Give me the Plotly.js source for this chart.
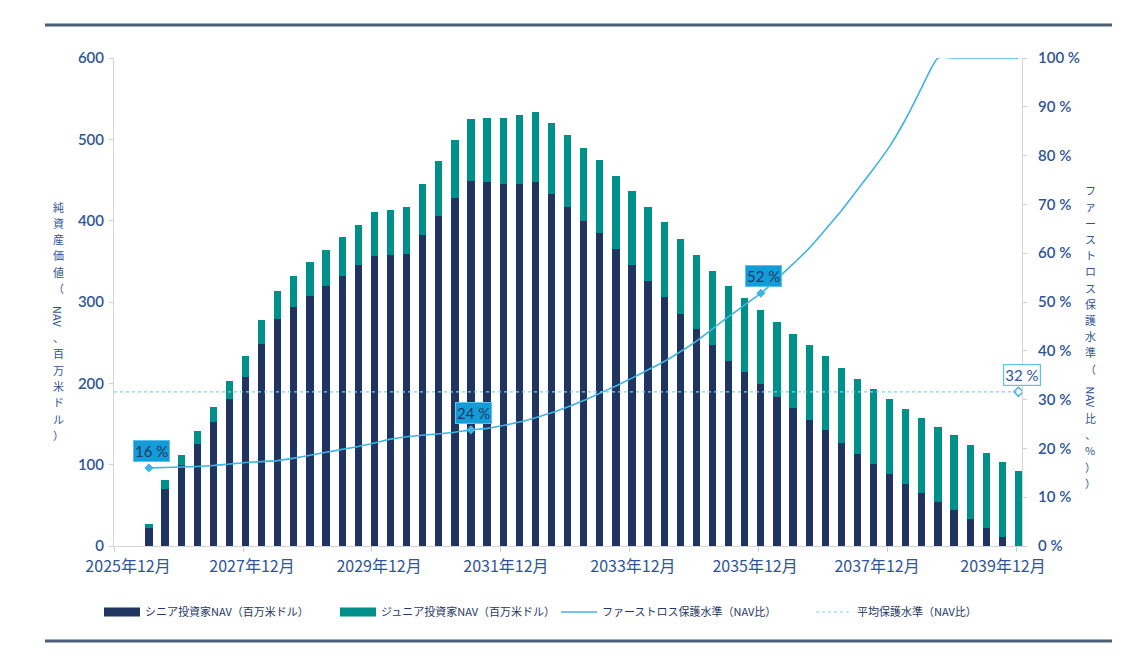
<!DOCTYPE html>
<html><head><meta charset="utf-8">
<script src="https://cdn.plot.ly/plotly-3.0.1.min.js"></script>
<style>html,body{margin:0;padding:0;background:#fff}#chart{width:1148px;height:665px}</style>
</head><body><div id="chart"></div>
<script>
// Quarterly periods (2026年6月 .. 2039年12月)
const periods = [
 '2026-06','2026-09','2026-12','2027-03','2027-06','2027-09','2027-12','2028-03','2028-06','2028-09','2028-12',
 '2029-03','2029-06','2029-09','2029-12','2030-03','2030-06','2030-09','2030-12','2031-03','2031-06','2031-09','2031-12',
 '2032-03','2032-06','2032-09','2032-12','2033-03','2033-06','2033-09','2033-12','2034-03','2034-06','2034-09','2034-12',
 '2035-03','2035-06','2035-09','2035-12','2036-03','2036-06','2036-09','2036-12','2037-03','2037-06','2037-09','2037-12',
 '2038-03','2038-06','2038-09','2038-12','2039-03','2039-06','2039-09','2039-12'];

// シニア投資家NAV（百万米ドル）
const seniorNAV = [22.5,70,99.6,126,152.9,180.7,208.2,248,279,293.5,307.8,320,332,345,356.6,357.4,359,382,405.7,427.5,448.8,
 447.2,444.7,444.7,447.2,432.4,416.4,400,384.5,364.8,345.5,325.4,305.8,285.3,266.4,247.4,227.7,213.8,199,183.6,169.3,
 154.9,142.2,127,113.1,100.8,88.9,76.6,65.5,54.1,43.9,32.8,21.8,10.7,0.5];

// ジュニア投資家NAV（百万米ドル）
const juniorNAV = [4.2,10.8,11.9,15.4,18.4,22.2,25.8,29.9,34.5,38.1,41.0,44.3,47.5,50.0,54.1,56.1,58.2,62.7,67.3,71.3,76.2,
 78.6,81.9,85.2,86.8,87.3,89.3,89.7,90.1,90.5,91.4,91.4,92.2,92.2,91.8,90.7,92.0,91.5,91.4,91.8,91.8,
 91.8,91.4,92.2,91.9,92.2,91.8,92.2,92.3,92.2,92.2,91.8,92.5,92.2,92.1];

// ファーストロス保護水準（NAV比, %）
const firstLoss = [16.0,16.1,16.2,16.3,16.5,16.8,17.1,17.3,17.5,18.0,18.6,19.2,19.8,20.4,21.1,21.9,22.4,22.7,23.0,23.3,23.8,
 24.1,24.7,25.4,26.3,27.3,28.5,29.8,31.3,32.8,34.4,36.1,37.8,39.8,42.0,44.5,47.0,49.4,51.8,54.7,57.8,
 61.0,64.8,68.7,73.0,77.3,81.9,87.5,94.0,100,100,100,100,100,100];

// 平均保護水準（NAV比, %）
const avgProtection = 31.6;

// labelled points on the first-loss line
const labelledPeriods = ['2026-06','2031-06','2035-12'];

const tickLabels = ['2025年12月','2027年12月','2029年12月','2031年12月','2033年12月','2035年12月','2037年12月','2039年12月'];

const seriesNames = ['シニア投資家NAV（百万米ドル）','ジュニア投資家NAV（百万米ドル）','ファーストロス保護水準（NAV比）','平均保護水準（NAV比）'];

// ---- layout helpers ----
const L = 114, R = 1022, T = 58, B = 546;
const px = x => (x - L) / (R - L);
const py = y => (B - y) / (B - T);
const xRange = [-2.17, 54.22];
const tickPos = [-1.3, 6.4, 14.29, 22.17, 30.06, 37.64, 45.22, 53.04];

const idx = periods.map((_, i) => i);
const C_SENIOR = '#1f3461', C_JUNIOR = '#00908a', C_LINE = '#3fb4e3', C_AVG = '#7fd0f0';
const TXT = '#2f5597';

const labIdx = labelledPeriods.map(p => periods.indexOf(p));
const lastIdx = idx[idx.length - 1];

const traces = [
  {type:'bar', x: idx, y: seniorNAV, name: seriesNames[0], marker:{color:C_SENIOR}, width:0.45, yaxis:'y', showlegend:false},
  {type:'bar', x: idx, y: juniorNAV, name: seriesNames[1], marker:{color:C_JUNIOR}, width:0.45, yaxis:'y', showlegend:false},
  {type:'scatter', mode:'lines', x: idx, y: firstLoss, name: seriesNames[2], yaxis:'y2', legend:'legend3',
    line:{color:C_LINE, width:1.6, shape:'spline', smoothing:0.6}},
  {type:'scatter', mode:'lines', x:[xRange[0], lastIdx], y:[avgProtection, avgProtection], name: seriesNames[3], yaxis:'y2',
    legend:'legend4', line:{color:C_AVG, width:1.2, dash:'dot'}},
  {type:'scatter', mode:'markers', x: labIdx, y: labIdx.map(i => firstLoss[i]), yaxis:'y2', showlegend:false,
    marker:{symbol:'diamond', size:7, color:C_LINE}},
  {type:'scatter', mode:'markers', x:[lastIdx], y:[avgProtection], yaxis:'y2', showlegend:false,
    marker:{symbol:'diamond-open', size:7, color:C_LINE, line:{width:1.5}}},
  // legend swatches for the bar series (wide rectangles as in the reference)
  {type:'scatter', mode:'lines', x:[null], y:[null], name: seriesNames[0], legend:'legend',
    line:{color:C_SENIOR, width:9}},
  {type:'scatter', mode:'lines', x:[null], y:[null], name: seriesNames[1], legend:'legend2',
    line:{color:C_JUNIOR, width:9}}
];

const annFont = {family:'Lato, "Noto Sans CJK JP", sans-serif', size:15, color:'#1f3864'};
const annotations = labIdx.map(i => ({
  xref:'x', yref:'y2', x:i, y:firstLoss[i], yshift:17, xshift:3, showarrow:false,
  text: Math.round(firstLoss[i]) + ' %', font: annFont,
  bgcolor:'#149cd8', bordercolor:'#5cc2ec', borderwidth:1, borderpad:1
}));
annotations.push({xref:'x', yref:'y2', x:lastIdx, y:avgProtection, yshift:17, xshift:4, showarrow:false,
  text: Math.round(avgProtection) + ' %', font:{...annFont, color:TXT},
  bgcolor:'#ffffff', bordercolor:'#5cc2ec', borderwidth:1.2, borderpad:1});

// vertical (upright) axis titles, one glyph per line position
const vfont = {family:'"Noto Sans CJK JP", sans-serif', size:11, color:TXT};
function vchars(str, xPix, firstCenter, pitch) {
  return Array.from(str).map((ch, k) => ({xref:'paper', yref:'paper', x:px(xPix), y:py(firstCenter + k * pitch),
    xanchor:'center', yanchor:'middle', showarrow:false, text:ch, font:vfont, borderpad:0}));
}
function rt(str, xPix, cPix) {
  return {xref:'paper', yref:'paper', x:px(xPix), y:py(cPix), xanchor:'center', yanchor:'middle',
    showarrow:false, text:str, font:vfont, textangle:90, borderpad:0};
}
annotations.push(...vchars('純資産価値（', 58, 206.5, 16.3));
annotations.push(rt('NAV', 58, 316));
annotations.push(...vchars('、百万米ドル）', 58, 337, 16.3));
annotations.push(...vchars('ファーストロス保護水準（', 1090, 190, 16.25));
annotations.push(rt('NAV', 1090, 396.5));
annotations.push(...vchars('比、%））', 1090, 418, 16.2));

const tickFont = {family:'Lato, sans-serif', size:15, color:TXT, weight:600};
const legFont = {family:'"Noto Sans CJK JP", sans-serif', size:11, color:'#1f3864'};
const leg = xPix => ({orientation:'h', x:px(xPix), y:py(612), xanchor:'left', yanchor:'middle', font:legFont,
  bgcolor:'rgba(0,0,0,0)', itemwidth:36});

const layout = {
  width:1148, height:665,
  margin:{l:L, r:1148 - R, t:T, b:665 - B, pad:0},
  paper_bgcolor:'#ffffff', plot_bgcolor:'#ffffff',
  barmode:'stack',
  showlegend:true,
  legend:leg(99), legend2:leg(335), legend3:leg(556), legend4:leg(811),
  xaxis:{range:xRange, showgrid:false, zeroline:false, showline:true, linecolor:'#d4d4d4', linewidth:1,
    tickmode:'array', tickvals:tickPos, ticktext:tickLabels, ticks:'', ticklabelstandoff:6,
    tickfont:{family:'"Noto Sans CJK JP", sans-serif', size:16, color:TXT},
    minor:{tick0:-2.15, dtick:8, ticks:'outside', ticklen:5, tickcolor:'#cfcfcf', showgrid:false}},
  yaxis:{range:[0,600], dtick:100, showgrid:false, zeroline:false, showline:true, linecolor:'#d4d4d4',
    ticks:'outside', ticklen:4, tickcolor:'#cfcfcf', tickfont:tickFont, ticklabelstandoff:2},
  yaxis2:{range:[0,100], dtick:10, overlaying:'y', side:'right', showgrid:false, zeroline:false, showline:true,
    linecolor:'#d4d4d4', ticks:'outside', ticklen:4, tickcolor:'#cfcfcf', ticksuffix:' %', tickfont:tickFont,
    ticklabelstandoff:8},
  annotations: annotations,
  shapes:[
    {type:'line', xref:'paper', yref:'paper', x0:px(45), x1:px(1112), y0:py(25), y1:py(25), line:{color:'#4f5e79', width:3}},
    {type:'line', xref:'paper', yref:'paper', x0:px(45), x1:px(1112), y0:py(641), y1:py(641), line:{color:'#4f5e79', width:3}}
  ],
  hovermode:false
};

Plotly.newPlot('chart', traces, layout, {displayModeBar:false, staticPlot:true});
</script></body></html>
